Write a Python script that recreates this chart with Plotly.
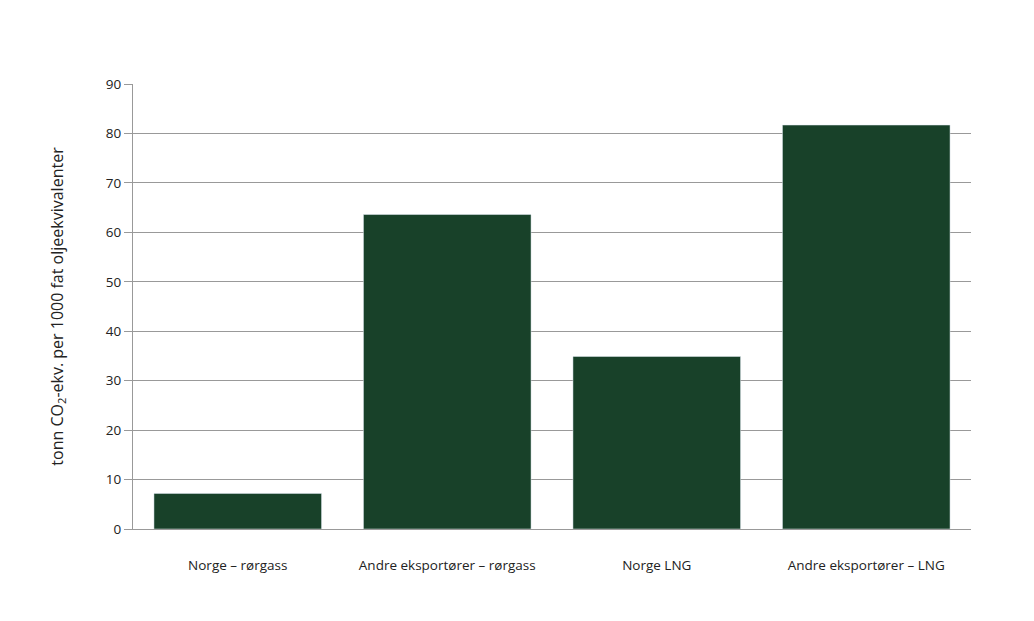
import plotly.graph_objects as go

categories = ["Norge – rørgass", "Andre eksportører – rørgass", "Norge LNG", "Andre eksportører – LNG"]
values = [7.2, 63.6, 34.9, 81.7]
y_ticks = [0, 10, 20, 30, 40, 50, 60, 70, 80, 90]

fig = go.Figure(go.Bar(x=categories, y=values, marker_color="#184129", width=0.8))
fig.update_layout(
    width=1034, height=621,
    margin=dict(l=125, r=71, t=76, b=100, autoexpand=False),
    plot_bgcolor="white", paper_bgcolor="white",
    font=dict(family="Open Sans", size=13.5, color="#222"),
    showlegend=False, bargap=0.2,
)
fig.update_yaxes(range=[0, 90], tickvals=y_ticks, showgrid=True, gridcolor="#999", gridwidth=1,
                 zeroline=False, ticks="outside", ticklen=8, tickcolor="#999",
                 showline=True, linecolor="#999", automargin=False,
                 title=dict(text="tonn CO<sub>2</sub>-ekv. per 1000 fat oljeekvivalenter", font=dict(size=16), standoff=38))
fig.update_xaxes(showline=True, linecolor="#999", ticks="", ticklabelstandoff=24, automargin=False)
fig.write_html("out.html")
